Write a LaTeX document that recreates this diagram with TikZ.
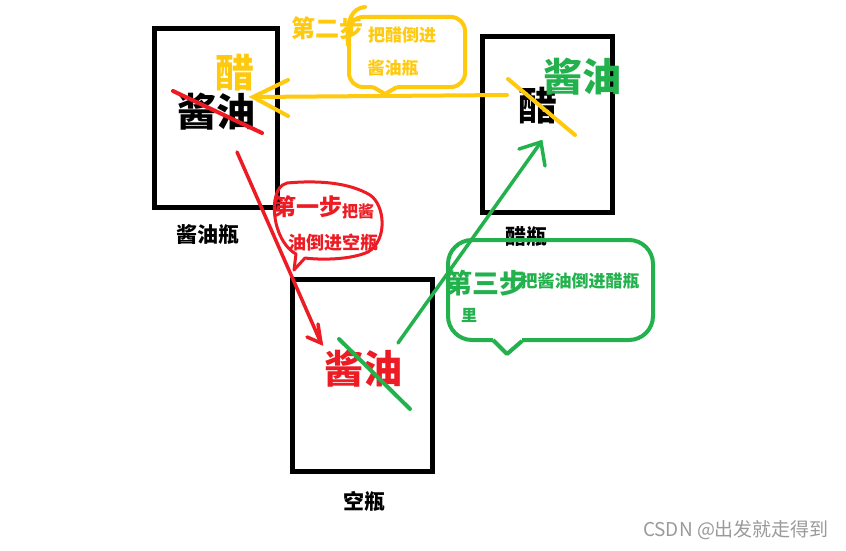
\documentclass[tikz,border=0pt]{standalone}
\usepackage{fontspec}
\setmainfont{Noto Sans CJK SC}
\usetikzlibrary{calc}
\definecolor{pyel}{HTML}{FFC90E}
\definecolor{pgrn}{HTML}{22B14C}
\definecolor{pred}{HTML}{ED1C24}
\definecolor{wm}{HTML}{9A9A9A}
\newcommand{\fs}[1]{\fontsize{#1}{#1}\selectfont}
\tikzset{
  bottle/.style={draw=black,line width=5pt},
  lbl/.style={inner sep=0pt,font=\bfseries\fs{21}},
  big/.style={inner sep=0pt,font=\bfseries\fs{39}},
  stroke/.style={line width=4pt,line cap=round},
  txt/.style={inner sep=0pt,font=\bfseries\fs{17}},
}
\begin{document}
\begin{tikzpicture}[x=1pt,y=-1pt]
\useasboundingbox (0,0) rectangle (846,551);
\fill[white] (0,0) rectangle (846,551);
% bottles
\draw[bottle] (154.5,28.5) rectangle (277.5,207.5);
\draw[bottle] (482,37) rectangle (612,212);
\draw[bottle] (292.5,279.5) rectangle (432,471.5);
\node[lbl] (l1) at (207.5,235) {酱油瓶};
\node[lbl] (l2) at (526,237) {醋瓶};
\node[lbl] (l3) at (364.5,501) {空瓶};
% left bottle contents
\node[big,text=pyel] (lc) at (235,73) {醋};
\node[big] (ls) at (216,112) {酱油};
\draw[stroke,pred] (173,91) -- (262,133);
% right bottle contents
\node[big] (rc) at (538,106) {醋};
\draw[stroke,pyel] (508,79) -- (575,135);
\node[big,text=pgrn] (rs) at (582,77) {酱油};
% bottom bottle contents
\node[big,text=pred] (bs) at (363,369) {酱油};
\draw[stroke,pgrn] (339,339) -- (410,409);
% arrows
\coordinate (ya) at (507,95);
\coordinate (yb) at (253,97);
\draw[stroke,pyel] (ya) -- (yb);
\draw[stroke,pyel] (288,80) -- (yb) -- (288,116);
\coordinate (ra) at (237,152);
\coordinate (rb) at (321,343);
\draw[stroke,pred,line width=3.5pt] (ra) -- (rb);
\draw[stroke,pred,line width=3.5pt] (318,324) -- (rb) -- (307,337);
\coordinate (ga) at (398,343);
\coordinate (gb) at (541,142);
\draw[stroke,pgrn,line width=3.5pt] (ga) -- (gb);
\draw[stroke,pgrn,line width=3.5pt] (519,149) -- (gb) -- (545,166);
% yellow callout
\draw[pyel,line width=4pt,line join=round,rounded corners=14pt]
  (373,87) -- (349,87) -- (349,17) -- (465,17) -- (465,87) -- (397,87);
\draw[pyel,line width=4pt,line join=round] (373,87) -- (385,94) -- (397,87);
\draw[pyel,line width=4pt,line cap=round] (348,45) .. controls (346,20) and (352,8) .. (365,7);
\node[inner sep=0pt,font=\bfseries\fs{24},text=pyel] (s2) at (327,28) {第二步};
\node[txt,text=pyel] (y1) at (402,35) {把醋倒进};
\node[txt,text=pyel] (y2) at (393,68) {酱油瓶};
% red callout
\node[inner sep=0pt,font=\bfseries\fs{23},text=pred] (s1) at (308,207) {第一步};
\node[inner sep=0pt,font=\bfseries\fs{16},text=pred] (r1) at (358,211) {把酱};
\node[txt,text=pred,font=\bfseries\fs{18}] (r2) at (333,243) {油倒进空瓶};
\draw[pred,line width=3pt,line join=round]
  (287,183) .. controls (320,180) and (350,183) .. (370,195)
  .. controls (385,205) and (388,240) .. (368,252)
  .. controls (350,260) and (320,260) .. (305,258)
  -- (294,270) -- (296,254)
  .. controls (280,245) and (272,220) .. (275,200)
  .. controls (277,190) and (280,185) .. (287,183);
% green callout
\draw[pgrn,line width=4pt,line join=round,rounded corners=24pt]
  (493,340) -- (448,340) -- (448,240) -- (653,240) -- (653,340) -- (522,340);
\draw[pgrn,line width=4pt,line join=round] (493,340) -- (507,354) -- (522,341);
\node[txt,text=pgrn,font=\bfseries\fs{17}] (g1) at (580,281) {把酱油倒进醋瓶};
\node[inner sep=0pt,font=\bfseries\fs{27},text=pgrn] (s3) at (486,283) {第三步};
\node[txt,text=pgrn,font=\bfseries\fs{16}] (g2) at (469,315) {里};
% watermark
\node[inner sep=0pt,font=\fs{19},text=wm] (wmk) at (736,530) {CSDN @出发就走得到};
\end{tikzpicture}
\end{document}
